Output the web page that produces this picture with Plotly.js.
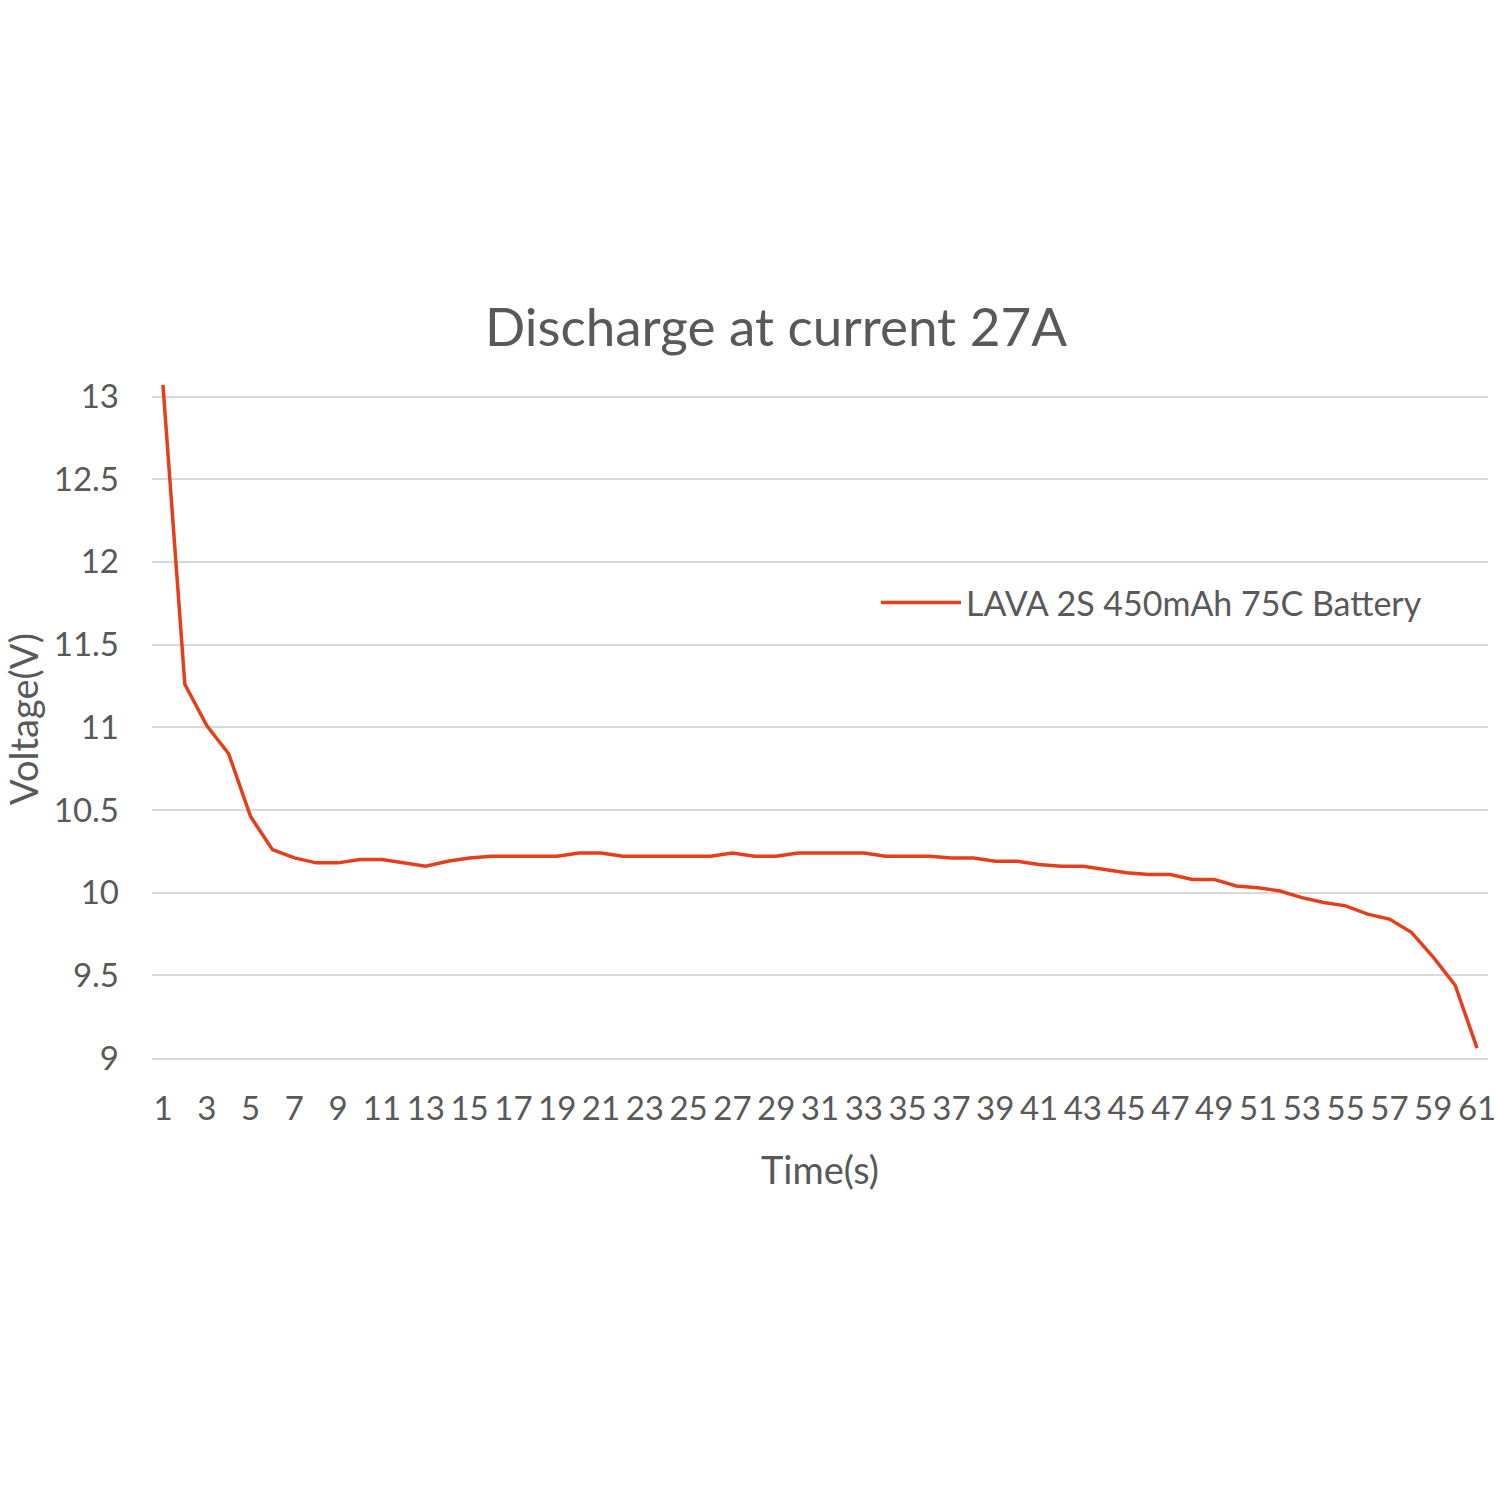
<!DOCTYPE html>
<html>
<head>
<meta charset="utf-8">
<script src="https://cdn.plot.ly/plotly-3.0.1.min.js"></script>
<style>html,body{margin:0;padding:0;background:#fff;}#chart{width:1496px;height:1496px;}</style>
</head>
<body>
<div id="chart"></div>
<script>
const timeSeconds = [1,2,3,4,5,6,7,8,9,10,11,12,13,14,15,16,17,18,19,20,21,22,23,24,25,26,27,28,29,30,31,32,33,34,35,36,37,38,39,40,41,42,43,44,45,46,47,48,49,50,51,52,53,54,55,56,57,58,59,60,61];
const voltage = [13.07,11.26,11.01,10.84,10.46,10.26,10.21,10.18,10.18,10.20,10.20,10.18,10.16,10.19,10.21,10.22,10.22,10.22,10.22,10.24,10.24,10.22,10.22,10.22,10.22,10.22,10.24,10.22,10.22,10.24,10.24,10.24,10.24,10.22,10.22,10.22,10.21,10.21,10.19,10.19,10.17,10.16,10.16,10.14,10.12,10.11,10.11,10.08,10.08,10.04,10.03,10.01,9.97,9.94,9.92,9.87,9.84,9.76,9.61,9.44,9.06];
const xTickValues = [1,3,5,7,9,11,13,15,17,19,21,23,25,27,29,31,33,35,37,39,41,43,45,47,49,51,53,55,57,59,61];
const yTickValues = [9,9.5,10,10.5,11,11.5,12,12.5,13];
const seriesName = 'LAVA 2S 450mAh 75C Battery';
const chartTitle = 'Discharge at current 27A';
const xTitle = 'Time(s)';
const yTitle = 'Voltage(V)';

const textColor = '#595959';
const fontFamily = 'Lato, "Open Sans", sans-serif';

const trace = {
  x: timeSeconds,
  y: voltage,
  type: 'scatter',
  mode: 'lines',
  name: seriesName,
  line: {color: '#E63E1A', width: 3.5},
  showlegend: true
};

const layout = {
  width: 1496,
  height: 1496,
  paper_bgcolor: '#ffffff',
  plot_bgcolor: '#ffffff',
  font: {family: fontFamily, color: textColor, size: 33},
  margin: {l: 152, r: 8, t: 380, b: 438},
  title: {
    text: chartTitle,
    font: {family: fontFamily, size: 53, color: textColor},
    xref: 'container', yref: 'container',
    x: 776/1496, y: 1 - 327/1496,
    xanchor: 'center', yanchor: 'middle'
  },
  xaxis: {
    range: [0.5, 61.5],
    tickmode: 'array',
    tickvals: xTickValues,
    ticktext: xTickValues.map(String),
    ticks: '',
    showgrid: false,
    zeroline: false,
    showline: true,
    linecolor: '#D9D9D9',
    linewidth: 2,
    tickfont: {family: fontFamily, size: 33, color: textColor},
    ticklabelstandoff: 20,
    ticklabeloverflow: 'allow',
    title: {text: xTitle, font: {family: fontFamily, size: 38, color: textColor}, standoff: 32}
  },
  yaxis: {
    range: [9, 13.1],
    tickmode: 'array',
    tickvals: yTickValues,
    ticktext: yTickValues.map(String),
    ticks: '',
    showgrid: true,
    gridcolor: '#D9D9D9',
    gridwidth: 2,
    zeroline: false,
    showline: false,
    tickfont: {family: fontFamily, size: 33, color: textColor},
    ticklabelstandoff: 32,
    title: {text: yTitle, font: {family: fontFamily, size: 38, color: textColor}, standoff: 10}
  },
  legend: {
    x: (876-152)/1336,
    y: (1058-603)/678,
    xanchor: 'left',
    yanchor: 'middle',
    bgcolor: 'rgba(0,0,0,0)',
    font: {family: fontFamily, size: 34, color: textColor},
    itemwidth: 80
  },
  showlegend: true
};

Plotly.newPlot('chart', [trace], layout, {displayModeBar: false, staticPlot: true});
</script>
</body>
</html>
